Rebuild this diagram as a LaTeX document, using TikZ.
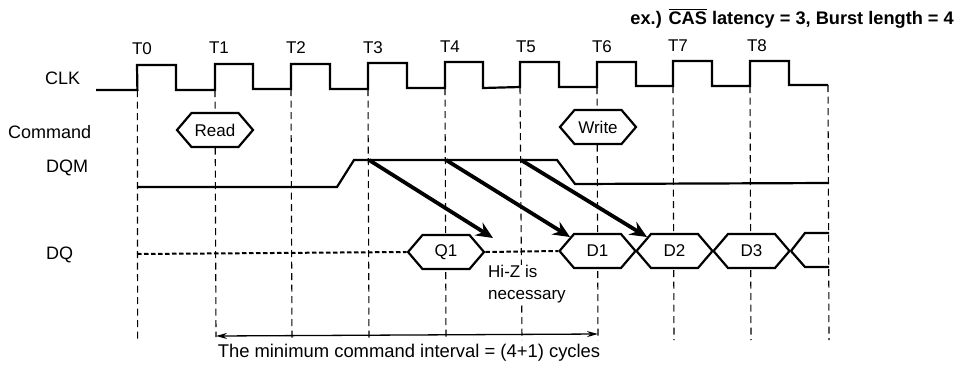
\documentclass[tikz,border=0pt]{standalone}
\usepackage{amsmath}
\usepackage{fontspec}
\setmainfont{Liberation Sans}
\usepackage{tikz}
\usetikzlibrary{shapes.symbols, arrows.meta}

\begin{document}
\begin{tikzpicture}[
 x=1pt, y=-1pt,
 label/.style={font=\fontsize{17}{22}\selectfont, inner sep=0pt},
 signalname/.style={font=\fontsize{18}{22}\selectfont, inner sep=0pt, anchor=west},
 tick/.style={label, anchor=center},
 wave/.style={line width=2.2pt, line join=miter},
 guide/.style={line width=1.1pt, dash pattern=on 7pt off 4.5pt},
 hiz/.style={line width=2pt, dash pattern=on 4.5pt off 2.5pt},
 busbox/.style={draw, line width=2.2pt, fill=white, signal, signal to=west and east,
  signal pointer angle=99, minimum width=76pt, minimum height=34pt, inner sep=0pt, label},
 latency/.style={line width=3.8pt, -{Stealth[length=17pt,width=15pt,inset=6pt]}},
 interval/.style={line width=1.3pt, {Stealth[length=11pt,width=6pt]}-{Stealth[length=11pt,width=6pt]}},
 ]
 \useasboundingbox (0,0) rectangle (960,368);

 \node[font=\fontsize{18.2}{20}\selectfont\bfseries, inner sep=0pt, anchor=east] (title) at (954,18)
 {ex.) $\overline{\textbf{CAS}}$ latency = 3, Burst length = 4};

 % signal names
 \node[signalname] (clkname) at (45,78) {CLK};
 \node[signalname] (cmdname) at (8,132) {Command};
 \node[signalname] (dqmname) at (46,168) {DQM};
 \node[signalname] (dqname) at (46,255) {DQ};

 % clock numbers
 \node[tick] (t0) at (142,49) {T0};
 \node[tick] (t1) at (219,48) {T1};
 \node[tick] (t2) at (296,48) {T2};
 \node[tick] (t3) at (373,48) {T3};
 \node[tick] (t4) at (450,47) {T4};
 \node[tick] (t5) at (526,47) {T5};
 \node[tick] (t6) at (602,47) {T6};
 \node[tick] (t7) at (678,46) {T7};
 \node[tick] (t8) at (757,46) {T8};

 % rising edges of the clock
 \coordinate (up0) at (137.4,90);
 \coordinate (up1) at (215,90);
 \coordinate (up2) at (291,89);
 \coordinate (up3) at (368,89);
 \coordinate (up4) at (445,88);
 \coordinate (up5) at (520,87);
 \coordinate (up6) at (597,87);
 \coordinate (up7) at (673,86);
 \coordinate (up8) at (750,86);
 \coordinate (up9) at (828,85);

 \draw[guide] (up0) -- (137.6,343);
 \draw[guide] (up1) -- (216,337);
 \draw[guide] (up2) -- (292,341);
 \draw[guide] (up3) -- (369,341);
 \draw[guide] (up4) -- (446,340);
 \draw[guide] (up5) -- (522,340);
 \draw[guide] (up6) -- (598,340);
 \draw[guide] (up7) -- (674,340);
 \draw[guide] (up8) -- (751,340);
 \draw[guide] (up9) -- (829,340);

 \draw[wave] (96,90) -- (up0) -- (137,65) -- (176,65) -- (176,90)
  -- (up1) -- (215,64) -- (253,64) -- (253,89)
  -- (up2) -- (291,64) -- (330,64) -- (330,89)
  -- (up3) -- (368,63) -- (407,63) -- (407,88)
  -- (up4) -- (445,62) -- (483,62) -- (483,88)
  -- (up5) -- (520,62) -- (559,62) -- (559,87)
  -- (up6) -- (597,62) -- (636,62) -- (636,86)
  -- (up7) -- (673,61) -- (712,61) -- (712,86)
  -- (up8) -- (750,61) -- (789,61) -- (789,85) -- (up9);

 % commands
 \node[busbox] (read) at (215,130) {Read};
 \node[busbox] (write) at (598,127) {Write};

 % DQM
 \coordinate (dqmstart) at (137,187);
 \coordinate (dqmrise) at (337,187);
 \coordinate (dqmhigh) at (354,160);
 \coordinate (dqmfall) at (557,160);
 \coordinate (dqmlow) at (575,184);
 \coordinate (dqmend) at (829,183);
 \draw[wave] (dqmstart) -- (dqmrise) -- (dqmhigh) -- (dqmfall) -- (dqmlow) -- (dqmend);

 % DQ
 \coordinate (dqstart) at (137,254);
 \node[busbox] (q1) at (446,252) {Q1};
 \node[busbox] (d1) at (597.5,251) {D1};
 \node[busbox] (d2) at (674.5,251) {D2};
 \node[busbox] (d3) at (751.5,251) {D3};
 \coordinate (d4top) at (805,233);
 \coordinate (d4topend) at (829,233);
 \coordinate (d4bot) at (805,267);
 \coordinate (d4botend) at (829,267);
 \draw[hiz] (dqstart) -- (q1.west);
 \draw[hiz] (q1.east) -- (d1.west);
 \draw[wave] (d3.east) -- (d4top) -- (d4topend);
 \draw[wave] (d3.east) -- (d4bot) -- (d4botend);

 % DQM to DQ latency
 \coordinate (mask1) at (369,160);
 \coordinate (mask2) at (446,160);
 \coordinate (mask3) at (521,160);
 \coordinate (masked1) at (493,238);
 \coordinate (masked2) at (570,237);
 \coordinate (masked3) at (647,237);
 \draw[latency] (mask1) -- (masked1);
 \draw[latency] (mask2) -- (masked2);
 \draw[latency] (mask3) -- (masked3);

 \node[label, anchor=west, align=left, fill=white] (hizname) at (488,284)
 {Hi-Z is\\necessary};

 % command interval
 \coordinate (intervalstart) at (216,336);
 \coordinate (intervalend) at (598,334);
 \draw[interval] (intervalstart) -- (intervalend);
 \node[font=\fontsize{18.4}{22}\selectfont, inner sep=0pt] (intervalname) at (409,353)
 {The minimum command interval = (4+1) cycles};

\end{tikzpicture}
\end{document}
